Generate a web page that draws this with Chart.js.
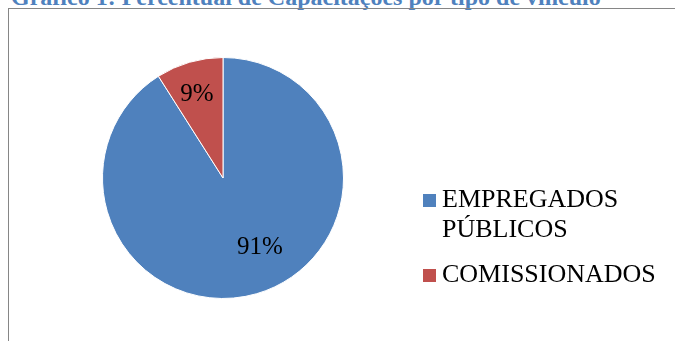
<!DOCTYPE html>
<html>
<head>
<meta charset="utf-8">
<script src="https://cdn.jsdelivr.net/npm/chart.js@4"></script>
<style>
  html, body { margin: 0; padding: 0; width: 675px; height: 341px; overflow: hidden; background: #fff; }
  #title {
    position: absolute; left: 11px; top: -15px;
    font: bold 24px "Liberation Serif", serif; color: #4F81BD;
    white-space: nowrap; line-height: 24px;
  }
  #frame {
    position: absolute; left: 8px; top: 8px; width: 700px; height: 400px;
    border: 1px solid #868686; box-sizing: border-box;
  }
  #wrap { position: absolute; left: 0; top: 0; width: 675px; height: 341px; }
</style>
</head>
<body>
<div id="title">Gráfico 1: Percentual de Capacitações por tipo de vínculo</div>
<div id="frame"></div>
<div id="wrap"><canvas id="chart"></canvas></div>
<script>
var categories = ['EMPREGADOS PÚBLICOS', 'COMISSIONADOS'];
var legendLines = [['EMPREGADOS', 'PÚBLICOS'], ['COMISSIONADOS']];
var values = [91, 9];
var colors = ['#4F81BD', '#C0504D'];

// percent labels on the slices
var sliceLabels = {
    id: 'sliceLabels',
    afterDatasetsDraw: function(chart, args, opts) {
        var ctx = chart.ctx;
        var meta = chart.getDatasetMeta(0);
        var total = values.reduce(function(a, b) { return a + b; }, 0);
        ctx.save();
        ctx.font = opts.font;
        ctx.fillStyle = '#000';
        ctx.textAlign = 'center';
        ctx.textBaseline = 'middle';
        meta.data.forEach(function(arc, i) {
            var p = arc.getProps(['x', 'y', 'startAngle', 'endAngle', 'outerRadius']);
            var pos = opts.pos[i];
            var mid = (p.startAngle + p.endAngle) / 2 + pos.shift * Math.PI / 180;
            var r = p.outerRadius * pos.r;
            var txt = Math.round(values[i] / total * 100) + '%';
            ctx.fillText(txt, p.x + Math.cos(mid) * r, p.y + Math.sin(mid) * r);
        });
        ctx.restore();
    }
};

// legend with wrapped text, to the right of the pie
var sideLegend = {
    id: 'sideLegend',
    afterDraw: function(chart, args, opts) {
        var ctx = chart.ctx;
        ctx.save();
        ctx.font = opts.font;
        ctx.textBaseline = 'alphabetic';
        ctx.textAlign = 'left';
        var y = opts.y;
        legendLines.forEach(function(lines, i) {
            ctx.fillStyle = colors[i];
            ctx.fillRect(opts.x, y - opts.box, opts.box, opts.box);
            ctx.fillStyle = '#000';
            lines.forEach(function(line, j) {
                ctx.fillText(line, opts.x + opts.box + opts.gap, y + j * opts.lineH);
            });
            y += lines.length * opts.lineH + opts.itemGap;
        });
        ctx.restore();
    }
};

var ctx = document.getElementById('chart').getContext('2d');
var chart = new Chart(ctx, {
    type: 'pie',
    data: {
        labels: categories,
        datasets: [{
            data: values,
            backgroundColor: colors,
            borderColor: '#ffffff',
            borderWidth: 1
        }]
    },
    options: {
        responsive: true,
        maintainAspectRatio: false,
        animation: false,
        layout: { padding: { left: 102, right: 331, top: 57, bottom: 42 } },
        plugins: {
            legend: { display: false },
            tooltip: { enabled: false },
            sliceLabels: {
                font: '25px "Liberation Serif", serif',
                pos: [{ r: 0.65, shift: -12 }, { r: 0.73, shift: -1 }]
            },
            sideLegend: {
                font: '26px "Liberation Serif", serif',
                x: 423, y: 207, box: 13, gap: 6, lineH: 30, itemGap: 15
            }
        }
    },
    plugins: [sliceLabels, sideLegend]
});
</script>
</body>
</html>
